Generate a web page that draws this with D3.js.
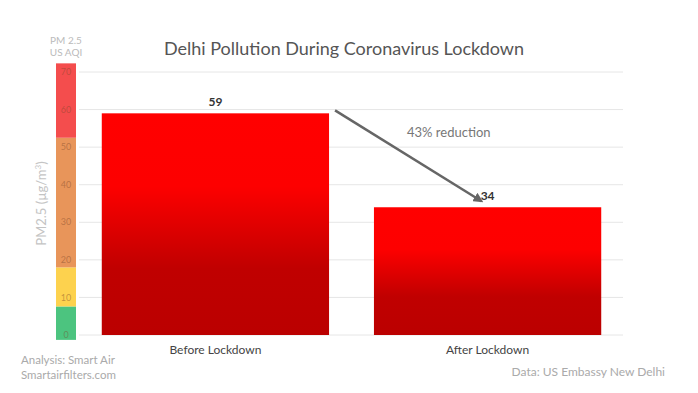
<!DOCTYPE html>
<html>
<head>
<meta charset="utf-8">
<script src="https://cdn.jsdelivr.net/npm/d3@7"></script>
<style>
  body { margin: 0; background: #fff; }
  text { font-family: "Lato", "Open Sans", sans-serif; }
</style>
</head>
<body>
<svg width="698" height="393"></svg>
<script>
const periods = ['Before Lockdown', 'After Lockdown'];
const pm25 = [59, 34];
const yTicks = [0, 10, 20, 30, 40, 50, 60, 70];
// AQI colour band as drawn next to the axis (value ranges)
const aqiFrom = [-1.3, 7.6, 18, 52.5];
const aqiTo = [7.6, 18, 52.5, 72.3];
const aqiColors = ['#4cc47f', '#fdd24e', '#e8955a', '#f44d4d'];
const reductionLabel = '43% reduction';

const svg = d3.select('svg');

const x = d3.scaleBand()
  .domain(periods)
  .range([80, 623])
  .paddingInner(0.165)
  .paddingOuter(0.08);

const y = d3.scaleLinear()
  .domain([0, 70])
  .range([335, 72]);

const defs = svg.append('defs');
const grad = defs.append('linearGradient')
  .attr('id', 'barGrad')
  .attr('x1', 0).attr('y1', 0).attr('x2', 0).attr('y2', 1);
grad.append('stop').attr('offset', '0%').attr('stop-color', '#ff0000');
grad.append('stop').attr('offset', '33%').attr('stop-color', '#fd0000');
grad.append('stop').attr('offset', '70%').attr('stop-color', '#c00000');
grad.append('stop').attr('offset', '100%').attr('stop-color', '#bb0000');

// gridlines
svg.append('g')
  .selectAll('line')
  .data(yTicks)
  .enter().append('line')
    .attr('x1', 79)
    .attr('x2', 623)
    .attr('y1', d => y(d))
    .attr('y2', d => y(d))
    .attr('stroke', '#e6e6e6')
    .attr('stroke-width', 1);

// AQI band
svg.append('g')
  .selectAll('rect')
  .data(aqiColors)
  .enter().append('rect')
    .attr('x', 56)
    .attr('width', 20)
    .attr('y', (d, i) => y(aqiTo[i]))
    .attr('height', (d, i) => y(aqiFrom[i]) - y(aqiTo[i]))
    .attr('fill', d => d);

svg.append('g')
  .selectAll('text')
  .data(yTicks)
  .enter().append('text')
    .attr('x', 66)
    .attr('y', d => y(d))
    .attr('dy', '0.35em')
    .attr('text-anchor', 'middle')
    .attr('font-size', 9)
    .attr('fill', 'rgba(120,70,40,0.45)')
    .text(d => d);

svg.append('text')
  .attr('x', 66).attr('y', 44)
  .attr('text-anchor', 'middle')
  .attr('font-size', 10)
  .attr('fill', '#bbb')
  .text('PM 2.5');
svg.append('text')
  .attr('x', 66).attr('y', 56)
  .attr('text-anchor', 'middle')
  .attr('font-size', 10)
  .attr('fill', '#bbb')
  .text('US AQI');

const yLabel = svg.append('text')
  .attr('transform', 'translate(46,' + y(35) + ') rotate(-90)')
  .attr('text-anchor', 'middle')
  .attr('font-size', 13)
  .attr('fill', '#c4c4c4');
yLabel.append('tspan').text('PM2.5 (µg/m');
yLabel.append('tspan').attr('font-size', 8).attr('dy', -5).text('3');
yLabel.append('tspan').attr('dy', 5).text(')');

// bars
svg.append('g')
  .selectAll('rect')
  .data(periods)
  .enter().append('rect')
    .attr('x', d => x(d))
    .attr('width', x.bandwidth())
    .attr('y', (d, i) => y(pm25[i]))
    .attr('height', (d, i) => y(0) - y(pm25[i]))
    .attr('fill', 'url(#barGrad)');

svg.append('g')
  .selectAll('text')
  .data(periods)
  .enter().append('text')
    .attr('x', d => x(d) + x.bandwidth() / 2)
    .attr('y', (d, i) => y(pm25[i]) - 7)
    .attr('text-anchor', 'middle')
    .attr('font-size', 12)
    .attr('font-weight', 'bold')
    .attr('fill', '#333')
    .text((d, i) => pm25[i]);

svg.append('g')
  .selectAll('text')
  .data(periods)
  .enter().append('text')
    .attr('x', d => x(d) + x.bandwidth() / 2)
    .attr('y', 354)
    .attr('text-anchor', 'middle')
    .attr('font-size', 12)
    .attr('fill', '#444')
    .text(d => d);

// reduction arrow
defs.append('marker')
  .attr('id', 'arrowHead')
  .attr('viewBox', '0 0 10 10')
  .attr('refX', 8).attr('refY', 5)
  .attr('markerWidth', 4).attr('markerHeight', 4)
  .attr('orient', 'auto')
  .append('path')
    .attr('d', 'M0,0 L10,5 L0,10 Z')
    .attr('fill', '#666');

const x0 = x(periods[0]) + x.bandwidth() + 6;
const x1 = x(periods[1]) + x.bandwidth() / 2 - 6;
svg.append('line')
  .attr('x1', x0).attr('y1', y(pm25[0]) - 3)
  .attr('x2', x1).attr('y2', y(pm25[1]) - 6)
  .attr('stroke', '#666')
  .attr('stroke-width', 2.5)
  .attr('marker-end', 'url(#arrowHead)');

svg.append('text')
  .attr('x', 407).attr('y', 137)
  .attr('font-size', 13)
  .attr('fill', '#777')
  .text(reductionLabel);

// title & notes
svg.append('text')
  .attr('x', 344).attr('y', 55)
  .attr('text-anchor', 'middle')
  .attr('font-size', 18)
  .attr('fill', '#555')
  .text('Delhi Pollution During Coronavirus Lockdown');

svg.append('text')
  .attr('x', 21).attr('y', 364)
  .attr('font-size', 11.5)
  .attr('fill', '#aaa')
  .text('Analysis: Smart Air');
svg.append('text')
  .attr('x', 21).attr('y', 379)
  .attr('font-size', 11.5)
  .attr('fill', '#aaa')
  .text('Smartairfilters.com');
svg.append('text')
  .attr('x', 665).attr('y', 376)
  .attr('text-anchor', 'end')
  .attr('font-size', 12)
  .attr('fill', '#aaa')
  .text('Data: US Embassy New Delhi');
</script>
</body>
</html>
